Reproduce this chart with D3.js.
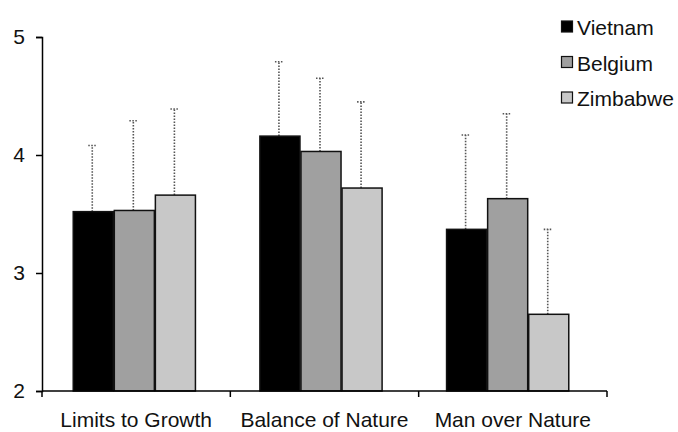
<!DOCTYPE html>
<html>
<head>
<meta charset="utf-8">
<script src="https://cdn.jsdelivr.net/npm/d3@7"></script>
<style>
    body { margin: 0; background: #fff; }
    text { font-family: 'Liberation Sans', Arial, sans-serif; fill: #111; }
</style>
</head>
<body>
<div id="chart-area"></div>
<script>
'use strict';

let categories = ['Limits to Growth', 'Balance of Nature', 'Man over Nature'];
let countries = ['Vietnam', 'Belgium', 'Zimbabwe'];
// means per country, one value per category
let vietnam = [3.52, 4.16, 3.37];
let belgium = [3.53, 4.03, 3.63];
let zimbabwe = [3.66, 3.72, 2.65];
// top of the error bar (mean + sd)
let vietnamErr = [4.08, 4.79, 4.17];
let belgiumErr = [4.29, 4.65, 4.35];
let zimbabweErr = [4.39, 4.45, 3.37];
let yTicks = [2, 3, 4, 5];

let means = [vietnam, belgium, zimbabwe];
let errs = [vietnamErr, belgiumErr, zimbabweErr];
let fills = ['#000000', '#a0a0a0', '#c8c8c8'];

let w = 678;
let h = 432;

let svg = d3.select('#chart-area').append('svg')
    .attr('width', w)
    .attr('height', h);

// axis bands (ticks + labels)
let xt = d3.scaleBand()
    .domain(categories)
    .range([42, 607]);

// bar groups
let x0 = d3.scaleBand()
    .domain(categories)
    .range([41, 601])
    .paddingInner(0.34)
    .paddingOuter(0.17);

let x1 = d3.scaleBand()
    .domain(countries)
    .range([0, x0.bandwidth()]);

let y = d3.scaleLinear()
    .domain([2, 5])
    .range([391, 37]);

let rows = [];
categories.forEach((c, i) => {
    countries.forEach((s, j) => {
        rows.push({cat: c, country: s, v: means[j][i], e: errs[j][i], fill: fills[j]});
    });
});

// error bars first so the bars sit on top
let err = svg.append('g').attr('class', 'errors');
rows.forEach((d) => {
    let cx = x0(d.cat) + x1(d.country) + x1.bandwidth() / 2 - 1;
    err.append('line')
        .attr('x1', cx).attr('x2', cx)
        .attr('y1', y(d.v)).attr('y2', y(d.e))
        .attr('stroke', '#555')
        .attr('stroke-width', 1.6)
        .attr('stroke-dasharray', '1.5,1.5');
    err.append('line')
        .attr('x1', cx - 4).attr('x2', cx + 4)
        .attr('y1', y(d.e)).attr('y2', y(d.e))
        .attr('stroke', '#555')
        .attr('stroke-width', 1.6)
        .attr('stroke-dasharray', '1.5,1.5');
});

svg.append('g')
    .attr('class', 'bars')
    .selectAll('rect')
    .data(rows)
    .enter()
    .append('rect')
        .attr('x', (d) => x0(d.cat) + x1(d.country) + 0.5)
        .attr('y', (d) => y(d.v))
        .attr('width', x1.bandwidth() - 1)
        .attr('height', (d) => y(2) - y(d.v))
        .attr('fill', (d) => d.fill)
        .attr('stroke', '#111')
        .attr('stroke-width', 1.5);

// y axis
let y_axis = d3.axisLeft(y)
    .tickValues(yTicks)
    .tickSize(6)
    .tickFormat(d3.format('d'));

let gy = svg.append('g')
    .attr('class', 'y_axis')
    .attr('transform', 'translate(42, 0)')
    .call(y_axis);
gy.select('.domain').attr('stroke', '#000').attr('stroke-width', 1.5);
gy.selectAll('.tick line').attr('stroke', '#000').attr('stroke-width', 1.5);
gy.selectAll('.tick text')
    .attr('x', -17)
    .attr('font-size', '21px')
    .attr('font-family', "'Liberation Sans', Arial, sans-serif")
    .attr('fill', '#111');

// x axis: ticks sit at the category boundaries
let gx = svg.append('g')
    .attr('class', 'x_axis')
    .attr('transform', 'translate(0, 391)');
gx.append('line')
    .attr('x1', 42).attr('x2', 607)
    .attr('stroke', '#000').attr('stroke-width', 1.5);
let bounds = categories.map((c) => xt(c)).concat([xt.range()[1]]);
gx.selectAll('.tk')
    .data(bounds)
    .enter()
    .append('line')
        .attr('class', 'tk')
        .attr('x1', (d) => d).attr('x2', (d) => d)
        .attr('y1', 0).attr('y2', 6)
        .attr('stroke', '#000').attr('stroke-width', 1.5);
gx.selectAll('.lbl')
    .data(categories)
    .enter()
    .append('text')
        .attr('class', 'lbl')
        .attr('x', (d) => xt(d) + xt.bandwidth() / 2)
        .attr('y', 36)
        .attr('font-size', '21px')
        .attr('text-anchor', 'middle')
        .text((d) => d);

// legend
let legend = svg.append('g').attr('class', 'legend');
countries.forEach((s, i) => {
    let ly = 27 + i * 35.5;
    legend.append('rect')
        .attr('x', 561.5).attr('y', ly - 6)
        .attr('width', 11).attr('height', 11)
        .attr('fill', fills[i])
        .attr('stroke', '#111')
        .attr('stroke-width', 1.2);
    legend.append('text')
        .attr('x', 577)
        .attr('y', ly + 8)
        .attr('font-size', '21px')
        .text(s);
});
</script>
</body>
</html>
